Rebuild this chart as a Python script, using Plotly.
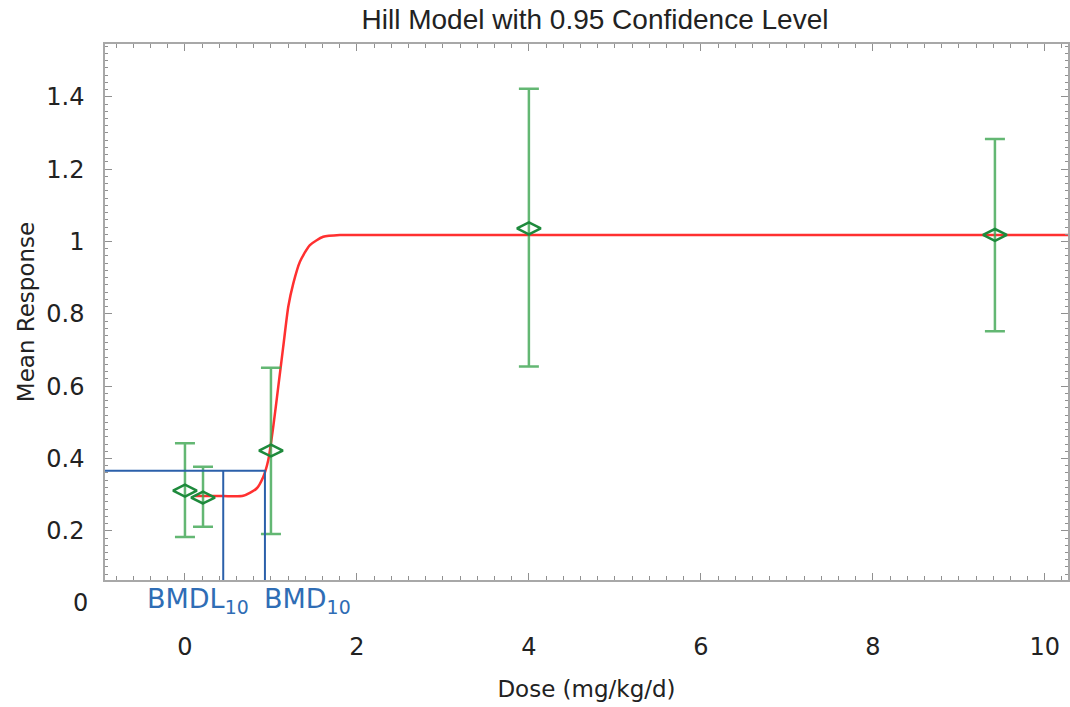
import plotly.graph_objects as go

# ---- data ----
dose = [0.0, 0.21, 1.0, 4.0, 9.42]
mean_resp = [0.311, 0.292, 0.422, 1.036, 1.018]
upper_ci = [0.442, 0.377, 0.651, 1.422, 1.283]
lower_ci = [0.183, 0.211, 0.191, 0.654, 0.752]

curve_x = [0.116, 0.445, 0.678, 0.833, 0.91, 0.969, 1.027, 1.085, 1.143, 1.202,
           1.26, 1.337, 1.453, 1.608, 1.802, 2.03, 10.27]
curve_y = [0.296, 0.296, 0.297, 0.317, 0.349, 0.396, 0.488, 0.598, 0.709, 0.820,
           0.884, 0.944, 0.990, 1.013, 1.018, 1.018, 1.018]

bmr = 0.366
bmd = 0.93
bmdl = 0.445

x_ticks = [0, 2, 4, 6, 8, 10]
y_ticks = [0.2, 0.4, 0.6, 0.8, 1.0, 1.2, 1.4]
y_ticktext = ["0.2", "0.4", "0.6", "0.8", "1", "1.2", "1.4"]

X_RANGE = [-0.93, 10.27]
Y_RANGE = [0.064, 1.546]

W, H = 1070, 707

TFONT = "Liberation Sans, Arial, sans-serif"
FONT = "DejaVu Sans, Liberation Sans, sans-serif"
TXT = "#222222"
BLUE = "#2b60aa"
BLUE_TXT = "#2f6db5"

err_plus = [u - m for u, m in zip(upper_ci, mean_resp)]
err_minus = [m - l for m, l in zip(mean_resp, lower_ci)]

fig = go.Figure()

fig.add_trace(go.Scatter(
    x=curve_x, y=curve_y, mode="lines",
    line=dict(color="#ff3030", width=2.5, shape="spline", smoothing=0.6),
    hoverinfo="skip", showlegend=False,
))

fig.add_trace(go.Scatter(
    x=dose, y=mean_resp, mode="markers",
    marker=dict(symbol="diamond-wide-open", size=17, color="#1e8a3c",
                line=dict(width=2.5, color="#1e8a3c")),
    error_y=dict(type="data", symmetric=False, array=err_plus, arrayminus=err_minus,
                 color="rgba(60,165,80,0.8)", thickness=2.5, width=10),
    showlegend=False,
))

# BMD guide lines
fig.add_trace(go.Scatter(
    x=[X_RANGE[0], bmd, bmd], y=[bmr, bmr, Y_RANGE[0]], mode="lines",
    line=dict(color=BLUE, width=2), showlegend=False, hoverinfo="skip",
))
fig.add_trace(go.Scatter(
    x=[bmdl, bmdl], y=[bmr, Y_RANGE[0]], mode="lines",
    line=dict(color=BLUE, width=2), showlegend=False, hoverinfo="skip",
))

fig.add_annotation(x=bmdl, y=0, xref="x", yref="paper", text="BMDL<sub>10</sub>",
                   showarrow=False, xanchor="right", yanchor="top", xshift=28, yshift=-1,
                   font=dict(family=FONT, size=27, color=BLUE_TXT))
fig.add_annotation(x=bmd, y=0, xref="x", yref="paper", text="BMD<sub>10</sub>",
                   showarrow=False, xanchor="left", yanchor="top", xshift=-3, yshift=-1,
                   font=dict(family=FONT, size=27, color=BLUE_TXT))
# the "0" tick label sits below the plotted range
zero_pos = (0 - Y_RANGE[0]) / (Y_RANGE[1] - Y_RANGE[0])
fig.add_annotation(x=0, y=zero_pos, xref="paper", yref="paper", text="0",
                   showarrow=False, xanchor="right", yanchor="middle", xshift=-15,
                   font=dict(family=FONT, size=24, color=TXT))

axis_common = dict(
    showline=True, linecolor="#a8a8a8", linewidth=1.5, mirror="allticks",
    ticks="inside", tickcolor="#909090", ticklen=7, tickwidth=1,
    showgrid=False, zeroline=False, automargin=False,
    tickfont=dict(family=FONT, size=24, color=TXT),
)

fig.update_xaxes(
    range=X_RANGE, tickvals=x_ticks, ticktext=[str(v) for v in x_ticks],
    ticklabelstandoff=44,
    minor=dict(dtick=0.2, ticks="inside", ticklen=4, tickcolor="#909090"),
    title=dict(text="Dose (mg/kg/d)", font=dict(family=FONT, size=23, color=TXT), standoff=21),
    **axis_common,
)
fig.update_yaxes(
    range=Y_RANGE, tickvals=y_ticks, ticktext=y_ticktext,
    ticklabelstandoff=14,
    minor=dict(dtick=0.02, ticks="inside", ticklen=3, tickcolor="#909090"),
    title=dict(text="Mean Response", font=dict(family=FONT, size=23, color=TXT), standoff=5),
    **axis_common,
)

fig.update_layout(
    width=W, height=H,
    margin=dict(l=105, r=2, t=44, b=127),
    paper_bgcolor="white", plot_bgcolor="white",
    title=dict(text="Hill Model with 0.95 Confidence Level",
               font=dict(family=TFONT, size=28, color=TXT),
               x=595 / W, xanchor="center", xref="container",
               y=1 - 19 / H, yanchor="middle", yref="container"),
    showlegend=False,
)

fig.write_html(
    "out.html",
    config={"displayModeBar": False},
    post_script="document.body.style.margin='0';document.body.style.overflow='hidden';",
)
